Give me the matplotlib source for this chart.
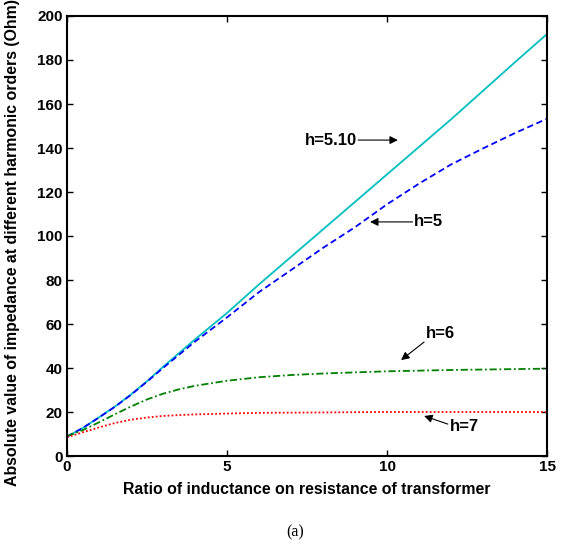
import matplotlib
matplotlib.use("Agg")
import matplotlib.pyplot as plt

plt.rcParams['font.family'] = ['Liberation Sans', 'DejaVu Sans']

# data
x_h510 = [0, 0.5, 1, 1.5, 2, 2.5, 3, 4, 5, 6, 7, 8, 9, 10, 11, 12, 13, 14, 15]
y_h510 = [8.8, 12.8, 17.6, 22.5, 28.0, 34.0, 40.5, 53.0, 65.0, 78.0, 90.5, 103.0, 115.5, 128.0, 140.5, 153.0, 166.0, 179.0, 191.8]

x_h5 = [0, 0.5, 1, 1.5, 2, 2.5, 3, 4, 5, 6, 7, 8, 9, 10, 11, 12, 13, 14, 15]
y_h5 = [8.8, 12.8, 17.5, 22.4, 27.8, 33.8, 40.0, 52.0, 63.0, 74.5, 84.5, 94.6, 104.0, 114.4, 123.8, 132.5, 139.8, 146.8, 153.3]

x_h6 = [0, 0.5, 1, 1.5, 2, 2.5, 3, 3.5, 4, 5, 6, 7, 8, 10, 12, 15]
y_h6 = [9.0, 11.8, 15.3, 19.0, 22.5, 25.7, 28.3, 30.3, 31.9, 34.2, 35.8, 36.8, 37.5, 38.5, 39.1, 39.7]

x_h7 = [0, 0.5, 1, 1.5, 2, 2.5, 3, 3.5, 4, 5, 6, 8, 10, 15]
y_h7 = [8.5, 10.8, 13.0, 15.0, 16.5, 17.5, 18.2, 18.6, 18.9, 19.3, 19.6, 19.8, 20.0, 20.0]

x_ticks = [0, 5, 10, 15]
y_ticks = [0, 20, 40, 60, 80, 100, 120, 140, 160, 180, 200]

fig = plt.figure(figsize=(5.65, 5.48), dpi=100)
ax = fig.add_axes([67/565, 1-456/548, 480/565, 440/548])

ax.plot(x_h510, y_h510, color='#00BFBF', lw=1.3, ls='-')
ax.plot(x_h5, y_h5, color='#0000FF', lw=1.3, ls=(0, (3.5, 2)))
ax.plot(x_h6, y_h6, color='#008000', lw=1.3, ls=(0, (4, 1.5, 1, 1.5)))
ax.plot(x_h7, y_h7, color='#FF0000', lw=1.3, ls=(0, (1, 1.2)))

ax.set_xlim(0, 15)
ax.set_ylim(0, 200)
ax.set_xticks(x_ticks)
ax.set_yticks(y_ticks)
ax.tick_params(direction='in', top=True, right=True, length=4, width=1, labelsize=11, pad=3)
for lab in ax.get_xticklabels() + ax.get_yticklabels():
    lab.set_fontweight('bold')
for sp in ax.spines.values():
    sp.set_linewidth(1.5)

ax.set_xlabel('Ratio of inductance on resistance of transformer', fontsize=11.4, fontweight='bold', labelpad=6)
ax.set_ylabel('Absolute value of impedance at different harmonic orders (Ohm)', fontsize=11.4, fontweight='bold', labelpad=4)
ax.yaxis.set_label_coords(-0.098, (456 - 243) / 440)

ap = dict(arrowstyle='-|>', color='black', lw=0.8, mutation_scale=12, shrinkA=0, shrinkB=0)
fs = 12
ax.annotate('', xy=(10.34, 143.6), xytext=(9.1, 143.6), arrowprops=ap)
ax.text(9.05, 143.6, 'h=5.10', ha='right', va='center', fontsize=fs, fontweight='bold')
ax.annotate('', xy=(9.47, 106.4), xytext=(10.8, 106.4), arrowprops=ap)
ax.text(10.85, 106.4, 'h=5', ha='left', va='center', fontsize=fs, fontweight='bold')
ax.annotate('', xy=(10.44, 43.6), xytext=(11.16, 51.8), arrowprops=ap)
ax.text(11.2, 55.5, 'h=6', ha='left', va='center', fontsize=fs, fontweight='bold')
ax.annotate('', xy=(11.16, 18.2), xytext=(11.9, 14.5), arrowprops=ap)
ax.text(11.95, 13.2, 'h=7', ha='left', va='center', fontsize=fs, fontweight='bold')

fig.text(295/565, 1-532/548, '(a)', ha='center', va='center', fontsize=11.5, family='Liberation Serif')

fig.savefig('out.png', dpi=100)
